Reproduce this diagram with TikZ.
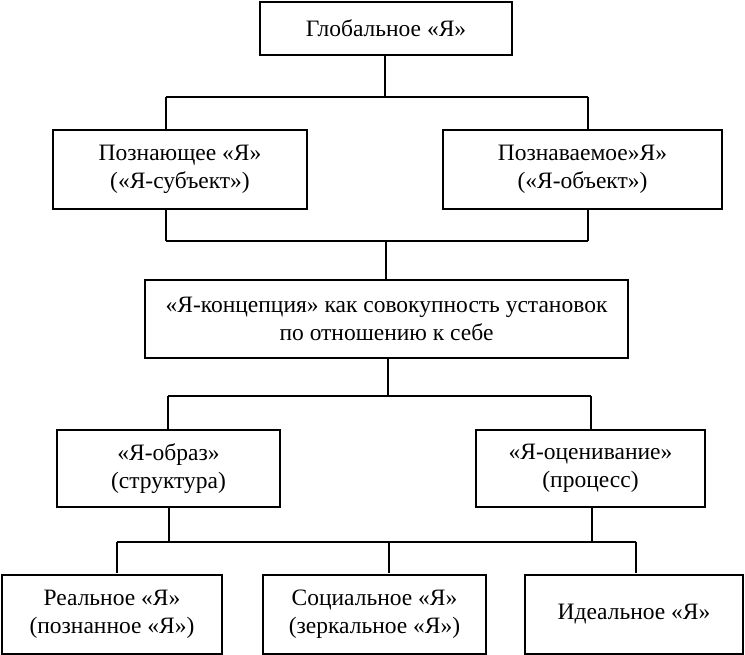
\documentclass[tikz,border=0pt]{standalone}
\usepackage{fontspec}
\setmainfont{Liberation Serif}
\begin{document}
\begin{tikzpicture}[x=1pt,y=-1pt,
  box/.style={draw,line width=1.4pt,inner sep=0pt,align=center,font=\fontsize{23.5}{28}\selectfont},
  conn/.style={line width=1.4pt}]
\useasboundingbox (0,0) rectangle (745,655);
\node[box,minimum width=252pt,minimum height=53pt] (g) at (386,28.5) {Глобальное «Я»};
\node[box,minimum width=254pt,minimum height=79pt] (pl) at (180,169.5) {Познающее «Я»\\(«Я-субъект»)};
\node[box,minimum width=279pt,minimum height=79pt] (pr) at (582.5,169.5) {Познаваемое»Я»\\(«Я-объект»)};
\node[box,minimum width=483pt,minimum height=78pt] (k) at (386.5,319) {«Я-концепция» как совокупность установок\\по отношению к себе};
\node[box,minimum width=223pt,minimum height=77pt] (ob) at (168.5,468.5) {«Я-образ»\\(структура)};
\node[box,minimum width=229pt,minimum height=77pt] (oc) at (590.5,468.5) {«Я-оценивание»\\(процесс)};
\node[box,minimum width=220pt,minimum height=79pt] (r) at (112,614.5) {Реальное «Я»\\(познанное «Я»)};
\node[box,minimum width=223pt,minimum height=79pt] (s) at (374.5,614.5) {Социальное «Я»\\(зеркальное «Я»)};
\node[box,minimum width=218pt,minimum height=79pt] (i) at (634,614.5) {Идеальное «Я»};
% junctions
\coordinate (a0) at (385,97);
\coordinate (a1) at (166,97);
\coordinate (a2) at (588,97);
\coordinate (b0) at (386,241);
\coordinate (b1) at (166,241);
\coordinate (b2) at (588,241);
\coordinate (c0) at (388,396);
\coordinate (c1) at (168,396);
\coordinate (c2) at (591,396);
\coordinate (d1) at (117,542);
\coordinate (d2) at (636,542);
\coordinate (dm) at (389,542);
\coordinate (dl) at (169,542);
\coordinate (dr) at (592,542);
% level 1
\draw[conn] (a0 |- g.south) -- (a0);
\draw[conn] (a1) -- (a2);
\draw[conn] (a1) -- (a1 |- pl.north);
\draw[conn] (a2) -- (a2 |- pr.north);
% level 2
\draw[conn] (b1 |- pl.south) -- (b1);
\draw[conn] (b2 |- pr.south) -- (b2);
\draw[conn] (b1) -- (b2);
\draw[conn] (b0) -- (b0 |- k.north);
% level 3
\draw[conn] (c0 |- k.south) -- (c0);
\draw[conn] (c1) -- (c2);
\draw[conn] (c1) -- (c1 |- ob.north);
\draw[conn] (c2) -- (c2 |- oc.north);
% level 4
\draw[conn] (dl |- ob.south) -- (dl);
\draw[conn] (dr |- oc.south) -- (dr);
\draw[conn] (d1) -- (d2);
\draw[conn] (d1) -- (d1 |- 0,573);
\draw[conn] (dm) -- (dm |- 0,573);
\draw[conn] (d2) -- (d2 |- 0,573);
\end{tikzpicture}
\end{document}
